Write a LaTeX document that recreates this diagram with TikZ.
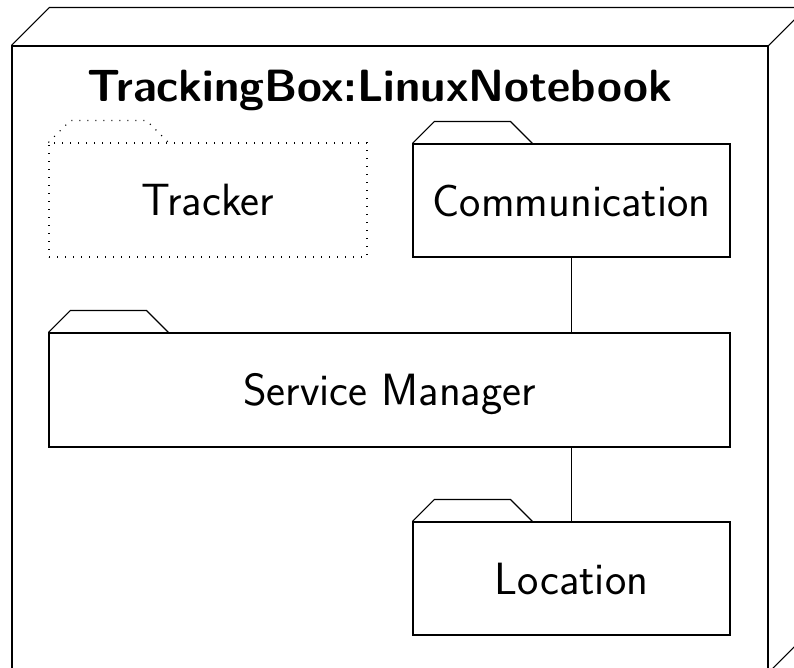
\documentclass[tikz,border=0pt]{standalone}
\usepackage{fontspec}
\begin{document}
\begin{tikzpicture}[x=0.75pt,y=-0.75pt,
  txt/.style={font=\sffamily\fontsize{33.9}{40}\selectfont},
  ln/.style={line width=0.8pt},
  pkg/.style={draw,ln,rectangle,inner sep=0pt,txt,text height=23.5pt,text depth=0pt},
  dotpkg/.style={pkg,dash pattern=on 0.8pt off 5.2pt},
  tab/.style={ln}]
\useasboundingbox (0,0) rectangle (794,668);
\clip (0,0) rectangle (794,668);
% deployment node
\node[draw,ln,rectangle,minimum width=567pt,minimum height=469.5pt,inner sep=0pt] (front) at (390,359) {};
\draw[ln] (front.north west) -- ++(38,-38) -- ++(756,0);
\draw[ln] (front.north east) -- ++(38,-38);
\draw[ln] (front.south east) -- ++(38,-38);
\node[font=\sffamily\bfseries\fontsize{33.9}{40}\selectfont,anchor=base] (title) at (380,101) {TrackingBox:LinuxNotebook};
% packages
\node[dotpkg,minimum width=238.5pt,minimum height=85.5pt] (trk) at (208,200) {Tracker};
\draw[tab,dash pattern=on 0.8pt off 5.2pt] (trk.north west) -- ++(22,-22) -- ++(76,0) -- ++(22,22);
\node[pkg,minimum width=237.75pt,minimum height=84.75pt] (comm) at (571.5,200.5) {Communication};
\draw[tab] (comm.north west) -- ++(22,-22) -- ++(76,0) -- ++(22,22);
\node[pkg,minimum width=510.75pt,minimum height=85.5pt] (svc) at (389.5,390) {Service Manager};
\draw[tab] (svc.north west) -- ++(22,-22) -- ++(76,0) -- ++(22,22);
\node[pkg,minimum width=237.75pt,minimum height=84.75pt] (loc) at (571.5,578.5) {Location};
\draw[tab] (loc.north west) -- ++(22,-22) -- ++(76,0) -- ++(22,22);
% connectors
\draw[ln] (comm.south) -- (comm.south |- svc.north);
\draw[ln] (loc.north) -- (loc.north |- svc.south);
\end{tikzpicture}
\end{document}
